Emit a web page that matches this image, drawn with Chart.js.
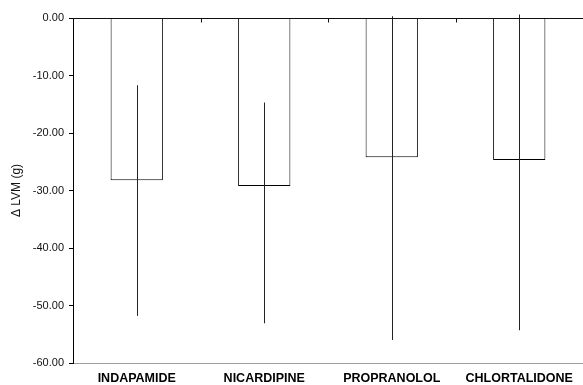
<!DOCTYPE html>
<html>
<head>
<meta charset="utf-8">
<script src="https://cdn.jsdelivr.net/npm/chart.js@4/dist/chart.umd.min.js"></script>
<style>
body { margin: 0; background: #fff; }
</style>
</head>
<body>
<canvas id="grafico" width="583" height="385"></canvas>
<script>
// datos
var categorias = ['INDAPAMIDE', 'NICARDIPINE', 'PROPRANOLOL', 'CHLORTALIDONE'];
var medias = [-28.2, -29.2, -24.2, -24.7];
var errArriba = [-11.7, -14.7, 0.3, 0.6];
var errAbajo = [-51.8, -53.1, -56.0, -54.3];
var ticksY = [0, -10, -20, -30, -40, -50, -60];

// barras de error + linea del cero con sus marcas
var extras = {
	id: 'extras',
	afterDatasetsDraw: (chart) => {
		var ctx = chart.ctx;
		var x = chart.scales.x, y = chart.scales.y;
		var area = chart.chartArea;
		ctx.save();
		ctx.lineWidth = 1;
		ctx.strokeStyle = '#222';
		for (var i = 0; i < categorias.length; i++) {
			var px = Math.round(x.getPixelForValue(i)) + 0.5;
			ctx.beginPath();
			ctx.moveTo(px, y.getPixelForValue(errArriba[i]));
			ctx.lineTo(px, y.getPixelForValue(errAbajo[i]));
			ctx.stroke();
		}
		var y0 = Math.round(y.getPixelForValue(0)) + 0.5;
		ctx.strokeStyle = '#111';
		ctx.beginPath();
		ctx.moveTo(area.left, y0);
		ctx.lineTo(area.right, y0);
		ctx.stroke();
		for (var j = 0; j < categorias.length - 1; j++) {
			var bx = Math.round((x.getPixelForValue(j) + x.getPixelForValue(j + 1)) / 2) + 0.5;
			ctx.beginPath();
			ctx.moveTo(bx, y0);
			ctx.lineTo(bx, y0 + 4);
			ctx.stroke();
		}
		ctx.restore();
	}
};

var ctx = document.getElementById('grafico').getContext('2d');
var chart = new Chart(ctx, {
	type: 'bar',
	data: {
		labels: categorias,
		datasets: [{
			data: medias,
			backgroundColor: '#ffffff',
			borderColor: '#000000',
			borderWidth: 1,
			barPercentage: 0.41,
			categoryPercentage: 1
		}]
	},
	options: {
		responsive: false,
		animation: false,
		devicePixelRatio: 1,
		layout: { padding: { top: 18, right: 0, bottom: 0, left: 0 } },
		plugins: {
			legend: { display: false },
			tooltip: { enabled: false }
		},
		scales: {
			x: {
				grid: { display: true, drawOnChartArea: false, drawTicks: false },
				border: { color: '#a0a0a0', width: 1 },
				ticks: {
					color: '#000',
					padding: 8,
					maxRotation: 0,
					font: { family: 'Liberation Sans, Arial, sans-serif', size: 12.5, weight: 'bold' }
				},
				afterFit: (s) => { s.height = 22; }
			},
			y: {
				min: -60,
				max: 0,
				afterBuildTicks: (s) => { s.ticks = ticksY.map(v => ({ value: v })); },
				grid: { drawOnChartArea: false, drawTicks: true, tickLength: 4, color: '#000' },
				border: { color: '#000', width: 1 },
				ticks: {
					color: '#111',
					padding: 5,
					font: { family: 'Liberation Sans, Arial, sans-serif', size: 11 },
					callback: (v) => Number(v).toFixed(2)
				},
				title: {
					display: true,
					text: 'Δ LVM (g)',
					color: '#111',
					padding: { top: 9, bottom: 0 },
					font: { family: 'Liberation Sans, Arial, sans-serif', size: 12 }
				},
				afterFit: (s) => { s.width = 73; }
			}
		}
	},
	plugins: [extras]
});
</script>
</body>
</html>
